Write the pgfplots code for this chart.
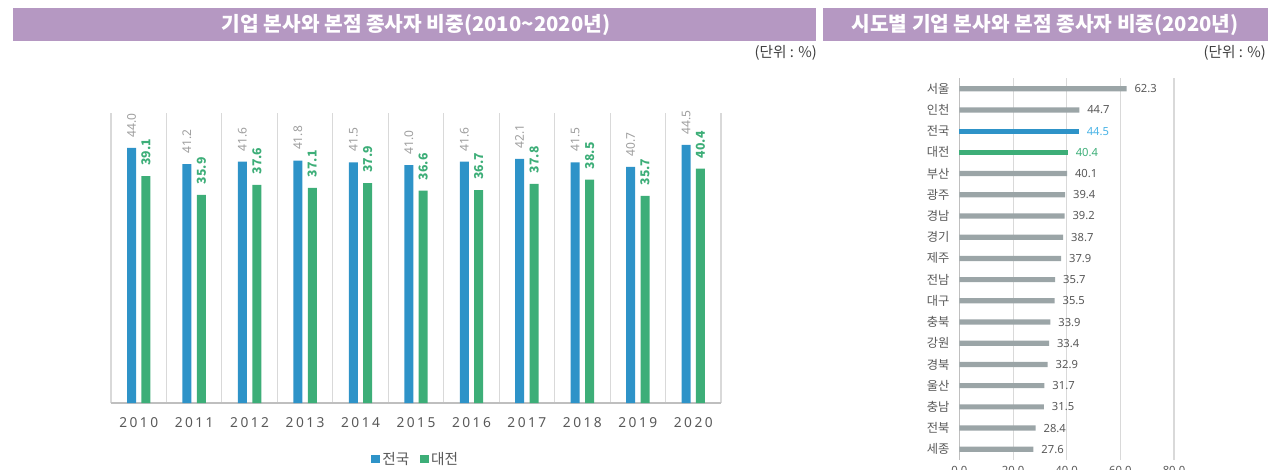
\documentclass[border=0pt]{standalone}
\usepackage{pgfplots}
\pgfplotsset{compat=1.18}
\usepackage{fontspec}
\setmainfont{Noto Sans}
\newfontfamily\kr{Noto Sans CJK KR}
\newfontfamily\yearfont[LetterSpace=18]{Noto Sans}
\definecolor{tpurple}{HTML}{B598C2}
\definecolor{cblue}{HTML}{2E93C8}
\definecolor{cgreen}{HTML}{3DAE78}
\definecolor{cgray}{HTML}{9BA5A7}
\definecolor{lblue}{HTML}{4BB4E6}
\definecolor{txtgray}{HTML}{595959}
\definecolor{gridc}{HTML}{D9D9D9}
\definecolor{axisc}{HTML}{BFBFBF}
\pgfplotstableread{
x y
0 44.0
1 41.2
2 41.6
3 41.8
4 41.5
5 41.0
6 41.6
7 42.1
8 41.5
9 40.7
10 44.5
}\national
\pgfplotstableread{
x y
0 39.1
1 35.9
2 37.6
3 37.1
4 37.9
5 36.6
6 36.7
7 37.8
8 38.5
9 35.7
10 40.4
}\daejeon
\pgfplotstableread{
v i
62.3 0
44.7 1
40.1 4
39.4 5
39.2 6
38.7 7
37.9 8
35.7 9
35.5 10
33.9 11
33.4 12
32.9 13
31.7 14
31.5 15
28.4 16
27.6 17
}\regions
\begin{document}
\begin{tikzpicture}[x=0.75pt,y=-0.75pt]
\path[use as bounding box] (0,0) rectangle (1268,470);
\fill[tpurple] (13,8) rectangle (816,41);
\fill[tpurple] (823,8) rectangle (1268,41);
\node[white, font=\kr\bfseries\fontsize{15.2}{17}\selectfont] at (416,25) {기업 본사와 본점 종사자 비중(2010\textasciitilde 2020년)};
\node[white, font=\kr\bfseries\fontsize{15.2}{17}\selectfont] at (1045,25) {시도별 기업 본사와 본점 종사자 비중(2020년)};
\node[anchor=east, font=\kr\fontsize{11}{12}\selectfont, text=black!75, inner sep=0pt] at (817,53) {(단위 : \%)};
\node[anchor=east, font=\kr\fontsize{11}{12}\selectfont, text=black!75, inner sep=0pt] at (1266,53) {(단위 : \%)};

\begin{axis}[
  at={(83.25pt,-302.25pt)}, anchor=south west,
  scale only axis, width=457.5pt, height=217.5pt,
  xmin=-0.5, xmax=10.5, ymin=0, ymax=50,
  ybar, bar width=6.75pt,
  /pgf/number format/assume math mode=true,
  axis line style={draw=none},
  ytick=\empty,
  xtick={0,...,10},
  xticklabels={2010,2011,2012,2013,2014,2015,2016,2017,2018,2019,2020},
  major tick length=0pt, minor tick length=0pt,
  minor xtick={-0.5,0.5,...,10.5}, xminorgrids,
  minor grid style={gridc, line width=0.8pt},
  xticklabel style={font=\yearfont\fontsize{10.3}{12}\selectfont, text=txtgray, yshift=-7pt},
  clip=false,
  legend style={at={(0.5,-0.193)}, anchor=center, draw=none, legend columns=2,
    font=\kr\fontsize{11}{12}\selectfont, text=txtgray,
    /tikz/every even column/.append style={column sep=6pt}},
  legend image code/.code={\fill[#1,draw=none] (0pt,-3.2pt) rectangle (6.4pt,3.2pt);},
]
\draw[axisc, line width=0.8pt] (axis cs:-0.5,0) -- (axis cs:10.5,0);
\addplot[fill=cblue, draw=none, bar shift=-5.4pt,
  nodes near coords={\pgfmathprintnumber[fixed,fixed zerofill,precision=1]{\pgfplotspointmeta}},
  every node near coord/.append style={rotate=90, anchor=west, font=\fontsize{9}{10}\selectfont, text=black!38, inner sep=0pt, outer xsep=8pt}]
  table[x=x,y=y] {\national};
\addlegendentry{전국}
\addplot[fill=cgreen, draw=none, bar shift=5.4pt,
  nodes near coords={\pgfmathprintnumber[fixed,fixed zerofill,precision=1]{\pgfplotspointmeta}},
  every node near coord/.append style={rotate=90, anchor=west, font=\kr\bfseries\fontsize{9.2}{10}\selectfont, text=cgreen, inner sep=0pt, outer xsep=8pt}]
  table[x=x,y=y] {\daejeon};
\addlegendentry{대전}
\end{axis}

\begin{axis}[
  at={(719.6pt,-344.9pt)}, anchor=south west,
  scale only axis, width=160.9pt, height=286.3pt,
  xbar, bar width=3.9pt,
  /pgf/number format/assume math mode=true,
  xmin=0, xmax=80, ymin=-0.5, ymax=17.5, y dir=reverse,
  ytick={0,...,17},
  yticklabels={서울,인천,전국,대전,부산,광주,경남,경기,제주,전남,대구,충북,강원,경북,울산,충남,전북,세종},
  yticklabel style={font=\kr\fontsize{9.2}{10}\selectfont, text=txtgray, xshift=-4pt},
  xtick={0,20,40,60,80}, xmajorgrids, grid style={gridc, line width=0.8pt},
  xticklabel={\pgfmathprintnumber[fixed,fixed zerofill,precision=1]{\tick}},
  xticklabel style={font=\fontsize{8.5}{10}\selectfont, text=txtgray, yshift=-1pt},
  axis line style={draw=none}, major tick length=0pt,
  clip=false,
]
\draw[axisc, line width=0.8pt] (axis cs:0,-0.5) -- (axis cs:0,17.5);
\addplot[fill=cgray, draw=none, bar shift=0pt,
  nodes near coords={\pgfmathprintnumber[fixed,fixed zerofill,precision=1]{\pgfplotspointmeta}},
  every node near coord/.append style={anchor=west, font=\fontsize{8.4}{10}\selectfont, text=txtgray, inner sep=0pt, outer xsep=6pt}]
  table[x=v,y=i] {\regions};
\addplot[fill=cblue, draw=none, bar shift=0pt,
  nodes near coords={\pgfmathprintnumber[fixed,fixed zerofill,precision=1]{\pgfplotspointmeta}},
  every node near coord/.append style={anchor=west, font=\fontsize{8.4}{10}\selectfont, text=lblue, inner sep=0pt, outer xsep=6pt}]
  coordinates {(44.5,2)};
\addplot[fill=cgreen, draw=none, bar shift=0pt,
  nodes near coords={\pgfmathprintnumber[fixed,fixed zerofill,precision=1]{\pgfplotspointmeta}},
  every node near coord/.append style={anchor=west, font=\fontsize{8.4}{10}\selectfont, text=cgreen, inner sep=0pt, outer xsep=6pt}]
  coordinates {(40.4,3)};
\end{axis}
\end{tikzpicture}
\end{document}
